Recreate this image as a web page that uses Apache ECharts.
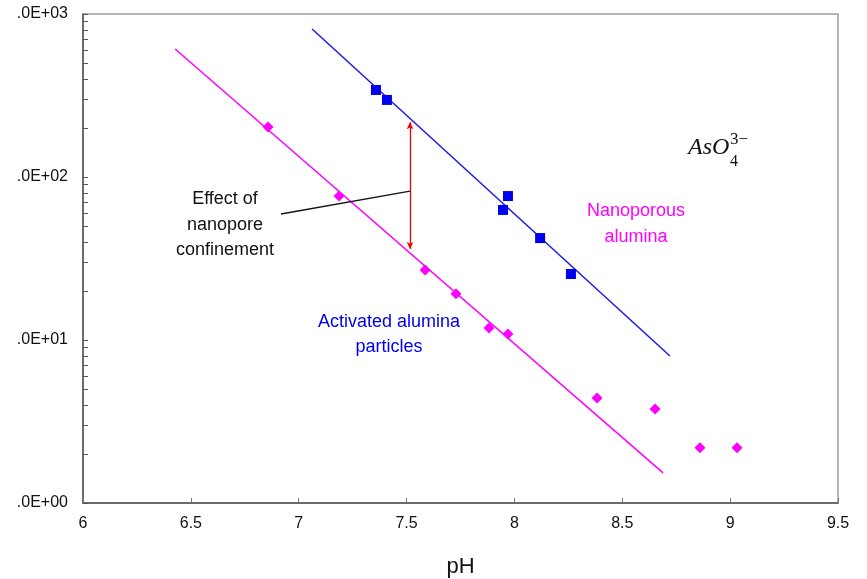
<!DOCTYPE html>
<html>
<head>
<meta charset="utf-8">
<script src="https://cdn.jsdelivr.net/npm/echarts@6/dist/echarts.min.js"></script>
<style>
html,body{margin:0;padding:0;width:867px;height:579px;overflow:hidden;background:#fff;}
#clip{position:absolute;left:17px;top:0;width:850px;height:579px;overflow:hidden;}
#chart{position:absolute;left:-17px;top:0;width:867px;height:579px;}
</style>
</head>
<body>
<div id="clip"><div id="chart"></div></div>
<script>
// ---- data ----
const nanoX = [7.358, 7.409, 7.947, 7.970, 8.119, 8.262];
const nanoY = [342, 297, 62.8, 76.4, 42.2, 25.4];
const actX = [6.858, 7.187, 7.586, 7.729, 7.882, 7.970, 8.383, 8.652, 8.860, 9.032];
const actY = [202.7, 76.4, 26.9, 19.2, 11.85, 10.9, 4.41, 3.77, 2.18, 2.18];
const nanoFitX = [7.062, 8.721];
const nanoFitY = [809, 7.98];
const actFitX = [6.427, 8.689];
const actFitY = [610, 1.53];
const arrowX = [7.516, 7.516];
const arrowY = [217, 36.2];
const leaderX = [6.918, 7.516];
const leaderY = [59.3, 82];
const xTicks = [6, 6.5, 7, 7.5, 8, 8.5, 9, 9.5];
const yMajor = [1, 10, 100, 1000];
const yTicks = [1,2,3,4,5,6,7,8,9,10,20,30,40,50,60,70,80,90,100,200,300,400,500,600,700,800,900,1000];

const zip = (xs, ys) => xs.map((x, i) => [x, ys[i]]);

const chart = echarts.init(document.getElementById('chart'));
const font = '"Liberation Sans", Arial, sans-serif';
const serif = '"Liberation Serif", "Times New Roman", serif';
chart.setOption({
  animation: false,
  grid: { left: 83, right: 867 - 838, top: 14, bottom: 579 - 503,
          outerBoundsMode: 'none', containLabel: false,
          show: true, borderColor: '#9a9a9a', borderWidth: 1.5, backgroundColor: 'transparent' },
  xAxis: {
    type: 'value', min: 6, max: 9.5, interval: 0.5,
    name: 'pH', nameLocation: 'middle', nameGap: 53,
    nameTextStyle: { fontFamily: font, fontSize: 22, color: '#111' },
    axisLine: { lineStyle: { color: '#555', width: 1.5 } },
    axisTick: { inside: true, length: 5, lineStyle: { color: '#777' } },
    axisLabel: { fontFamily: font, fontSize: 16, color: '#111', margin: 13,
                 customValues: xTicks, formatter: v => String(v) },
    splitLine: { show: false }
  },
  yAxis: {
    type: 'log', logBase: 10, min: 1, max: 1000,
    axisLine: { show: true, lineStyle: { color: '#555', width: 1.5 } },
    axisTick: { show: true, inside: true, length: 5, customValues: yTicks, lineStyle: { color: '#555' } },
    axisLabel: { fontFamily: font, fontSize: 16, color: '#111', margin: 15,
                 customValues: yMajor,
                 formatter: v => { const e = Math.round(Math.log10(v)); return '1.0E+' + String(e).padStart(2, '0'); } },
    splitLine: { show: false }
  },
  series: [
    { type: 'line', data: zip(actFitX, actFitY), showSymbol: false, silent: true,
      lineStyle: { color: '#ff00ff', width: 1.5 }, z: 2 },
    { type: 'line', data: zip(nanoFitX, nanoFitY), showSymbol: false, silent: true,
      lineStyle: { color: '#1a1ae8', width: 1.5 }, z: 2 },
    { type: 'line', data: zip(leaderX, leaderY), showSymbol: false, silent: true,
      lineStyle: { color: '#111', width: 1.3 }, z: 2 },
    { type: 'scatter', data: zip(actX, actY), symbol: 'diamond', symbolSize: 11,
      itemStyle: { color: '#ff00ff', opacity: 1 }, z: 3 },
    { type: 'scatter', data: zip(nanoX, nanoY), symbol: 'rect', symbolSize: 10,
      itemStyle: { color: '#0000f0', opacity: 1 }, z: 3 },
    { type: 'line', data: [], silent: true,
      markLine: { silent: true, symbol: ['arrow', 'arrow'], symbolSize: [5, 7],
        label: { show: false },
        lineStyle: { color: '#ee0000', width: 1.3, type: 'solid' },
        data: [[{ coord: [arrowX[0], arrowY[0]] }, { coord: [arrowX[1], arrowY[1]] }]] } }
  ],
  graphic: [
    { type: 'text', x: 225, y: 225,
      style: { text: 'Effect of\nnanopore\nconfinement', font: '18px ' + font, lineHeight: 25.5,
               fill: '#111', align: 'center', verticalAlign: 'middle' } },
    { type: 'text', x: 636, y: 224,
      style: { text: 'Nanoporous\nalumina', font: '18px ' + font, lineHeight: 26,
               fill: '#ff00ff', align: 'center', verticalAlign: 'middle' } },
    { type: 'text', x: 389, y: 334.5,
      style: { text: 'Activated alumina\nparticles', font: '18px ' + font, lineHeight: 25.5,
               fill: '#0000ee', align: 'center', verticalAlign: 'middle' } },
    { type: 'text', x: 688, y: 148,
      style: { text: 'AsO', font: 'italic 24px ' + serif,
               fill: '#111', align: 'left', verticalAlign: 'middle' } },
    { type: 'text', x: 730, y: 162,
      style: { text: '4', font: '16px ' + serif,
               fill: '#111', align: 'left', verticalAlign: 'middle' } },
    { type: 'text', x: 730, y: 140,
      style: { text: '3−', font: '17px ' + serif,
               fill: '#111', align: 'left', verticalAlign: 'middle' } }
  ]
});
</script>
</body>
</html>
